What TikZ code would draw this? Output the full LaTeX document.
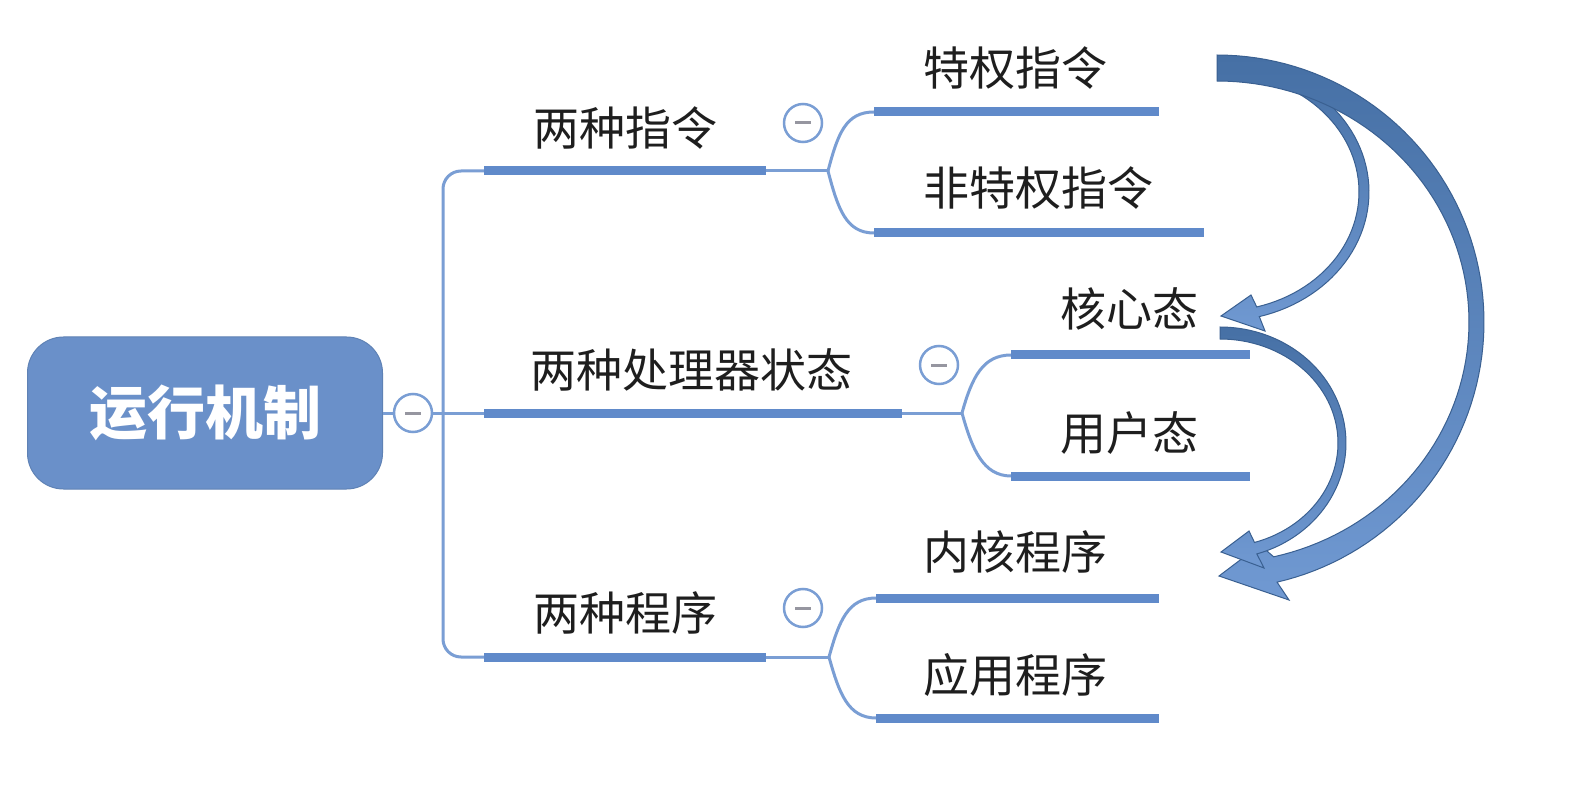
\documentclass[tikz,border=0pt]{standalone}
\usepackage{fontspec}
\newfontfamily\cjk{Noto Sans CJK SC}
\usetikzlibrary{calc}
\definecolor{rootblue}{RGB}{106,144,201}
\definecolor{barblue}{RGB}{96,138,202}
\definecolor{linkblue}{RGB}{122,158,212}
\definecolor{arrowdark}{RGB}{70,112,165}
\definecolor{arrowlight}{RGB}{112,153,210}
\definecolor{arrowedge}{RGB}{58,96,145}
\definecolor{txt}{RGB}{30,30,30}
\definecolor{minusgray}{RGB}{150,150,160}
\begin{document}
\begin{tikzpicture}[x=1pt,y=-1pt,
  mmtext/.style={font=\cjk\fontsize{46}{50}\selectfont, text=txt, inner sep=0pt},
  mmroot/.style={rectangle, rounded corners=36pt, fill=rootblue, draw=rootblue!90!black, line width=1pt,
     minimum width=355pt, minimum height=152pt, text=white, font=\cjk\bfseries\fontsize{58}{62}\selectfont},
  mmbar/.style={line width=9pt, barblue},
  mmlink/.style={line width=3pt, linkblue},
  mmfold/.style={circle, draw=linkblue, line width=2.5pt, fill=white, minimum size=38pt, inner sep=0pt,
     path picture={\draw[minusgray, line width=3pt] ($(path picture bounding box.center)+(-8,0)$) -- ($(path picture bounding box.center)+(8,0)$);}},
  mmarrow/.style={draw=arrowedge, line width=1pt, top color=arrowdark, bottom color=arrowlight}]
\useasboundingbox (0,0) rectangle (1580,794);
\fill[white] (0,0) rectangle (1580,794);

% root and fold
\node[mmroot] (root) at (205,413) {运行机制};

% coordinates
\coordinate (tk) at (443,413);
\coordinate (b1s) at (484,171); \coordinate (b1e) at (766,171);
\coordinate (b2s) at (484,413); \coordinate (b2e) at (902,413);
\coordinate (b3s) at (484,657); \coordinate (b3e) at (766,657);
\coordinate (s1) at (828,171); \coordinate (s2) at (962,413); \coordinate (s3) at (829,657);
\coordinate (l1s) at (874,112); \coordinate (l1e) at (1159,112);
\coordinate (l2s) at (874,233); \coordinate (l2e) at (1204,233);
\coordinate (l3s) at (1011,355); \coordinate (l3e) at (1250,355);
\coordinate (l4s) at (1011,476); \coordinate (l4e) at (1250,476);
\coordinate (l5s) at (876,598); \coordinate (l5e) at (1159,598);
\coordinate (l6s) at (876,718); \coordinate (l6e) at (1159,718);

% thin links
\draw[mmlink, rounded corners=18pt] (b1s) -| (tk) |- (b3s);
\draw[mmlink] (root.east) -- (b2s);
\draw[mmlink] (b1e) -- (s1);
\draw[mmlink] (b2e) -- (s2);
\draw[mmlink] (b3e) -- (s3);
\draw[mmlink] (s1) .. controls +(10,-38) and +(-28,0) .. (l1s);
\draw[mmlink] (s1) .. controls +(10,38) and +(-28,0) .. (l2s);
\draw[mmlink] (s2) .. controls +(10,-36) and +(-28,0) .. (l3s);
\draw[mmlink] (s2) .. controls +(10,36) and +(-28,0) .. (l4s);
\draw[mmlink] (s3) .. controls +(10,-36) and +(-28,0) .. (l5s);
\draw[mmlink] (s3) .. controls +(10,36) and +(-28,0) .. (l6s);

% bars
\draw[mmbar] (b1s) -- (b1e);
\draw[mmbar] (b2s) -- (b2e);
\draw[mmbar] (b3s) -- (b3e);
\draw[mmbar] (l1s) -- (l1e);
\draw[mmbar] (l2s) -- (l2e);
\draw[mmbar] (l3s) -- (l3e);
\draw[mmbar] (l4s) -- (l4e);
\draw[mmbar] (l5s) -- (l5e);
\draw[mmbar] (l6s) -- (l6e);

% fold circles
\node[mmfold] (f0) at (413,413) {};
\node[mmfold] (f1) at (803,123) {};
\node[mmfold] (f2) at (939,365) {};
\node[mmfold] (f3) at (803,608) {};

% texts
\node[mmtext] (t1) at (625,128) {两种指令};
\node[mmtext] (t2) at (691,370) {两种处理器状态};
\node[mmtext] (t3) at (625,613) {两种程序};
\node[mmtext] (t11) at (1015,68) {特权指令};
\node[mmtext] (t12) at (1038,188) {非特权指令};
\node[mmtext] (t21) at (1129,309) {核心态};
\node[mmtext] (t22) at (1129,433) {用户态};
\node[mmtext] (t31) at (1015,552) {内核程序};
\node[mmtext] (t32) at (1015,675) {应用程序};

% curved block arrows
% inner arrow 1 (privileged -> kernel mode)
\path[mmarrow] plot[domain=90:-75, samples=60] ({1221+148*cos(\x)}, {192-129*sin(\x)})
  -- (1265,331) -- (1221,316) -- (1251,295)
  -- plot[domain=-75:90, samples=60] ({1221+138*cos(\x)}, {192-119*sin(\x)}) -- cycle;
% big arrow
\path[mmarrow] plot[domain=90:-77, samples=80] ({1217+267*cos(\x)}, {322-267*sin(\x)})
  -- (1289,600) -- (1219,576) -- (1260,545)
  -- plot[domain=-77:90, samples=80] ({1217+252*cos(\x)}, {322-241*sin(\x)}) -- cycle;
% inner arrow 2 (kernel mode -> kernel program)
\path[mmarrow] plot[domain=90:-73, samples=60] ({1220+126*cos(\x)}, {443-116*sin(\x)})
  -- (1264,568) -- (1221,552) -- (1249,531)
  -- plot[domain=-73:90, samples=60] ({1220+118*cos(\x)}, {443-104*sin(\x)}) -- cycle;
\end{tikzpicture}
\end{document}
